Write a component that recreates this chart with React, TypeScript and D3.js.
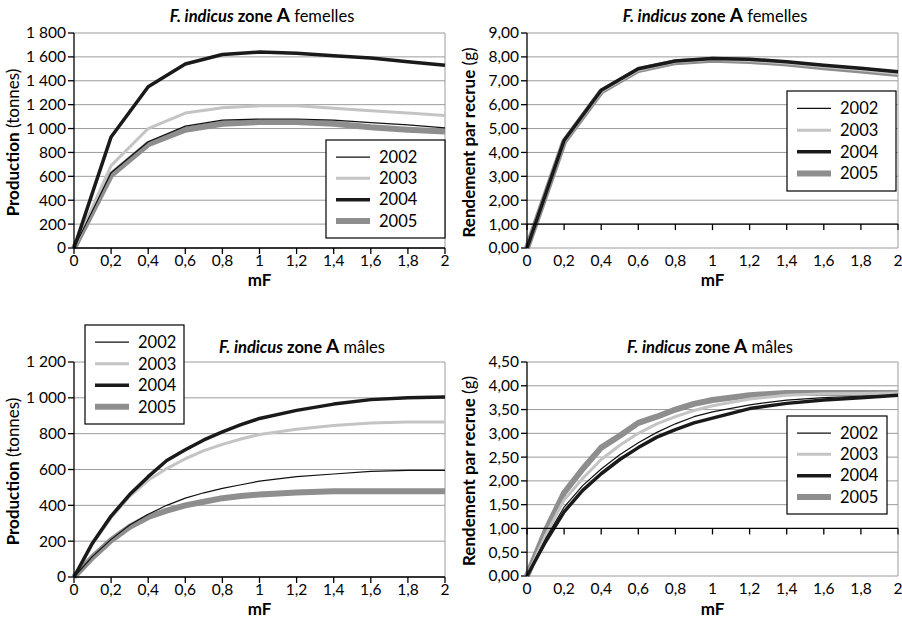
import * as d3 from "d3";
import React from "react";

// mF values (x axis)
const mF11 = [0, 0.2, 0.4, 0.6, 0.8, 1, 1.2, 1.4, 1.6, 1.8, 2];
const mF16 = [0, 0.1, 0.2, 0.3, 0.4, 0.5, 0.6, 0.7, 0.8, 0.9, 1, 1.2, 1.4, 1.6, 1.8, 2];
const xTickValues = [0, 0.2, 0.4, 0.6, 0.8, 1, 1.2, 1.4, 1.6, 1.8, 2];
const years = ["2002", "2003", "2004", "2005"];

// femelles - production (tonnes)
const prodF2002 = [0, 630, 890, 1020, 1070, 1080, 1080, 1070, 1050, 1030, 1005];
const prodF2003 = [0, 690, 1000, 1130, 1175, 1190, 1190, 1170, 1150, 1130, 1110];
const prodF2004 = [0, 930, 1350, 1540, 1620, 1640, 1630, 1610, 1590, 1560, 1530];
const prodF2005 = [0, 610, 870, 990, 1040, 1055, 1055, 1040, 1010, 990, 975];

// femelles - rendement par recrue (g)
const rprF2002 = [0, 4.5, 6.6, 7.5, 7.82, 7.92, 7.88, 7.78, 7.63, 7.5, 7.35];
const rprF2003 = [0, 4.45, 6.55, 7.45, 7.8, 7.9, 7.85, 7.74, 7.6, 7.46, 7.3];
const rprF2004 = [0, 4.5, 6.6, 7.5, 7.83, 7.93, 7.9, 7.8, 7.65, 7.52, 7.38];
const rprF2005 = [0, 4.45, 6.55, 7.45, 7.78, 7.88, 7.83, 7.72, 7.57, 7.43, 7.28];

// mâles - production (tonnes)
const prodM2002 = [0, 115, 210, 290, 350, 400, 440, 470, 495, 515, 535, 560, 575, 590, 595, 595];
const prodM2003 = [0, 185, 330, 450, 540, 605, 660, 705, 740, 770, 795, 825, 845, 860, 865, 865];
const prodM2004 = [0, 190, 340, 460, 560, 650, 710, 765, 810, 850, 885, 930, 965, 990, 1000, 1005];
const prodM2005 = [0, 110, 205, 280, 335, 370, 400, 420, 440, 452, 460, 472, 478, 478, 478, 478];

// mâles - rendement par recrue (g)
const rprM2002 = [0, 0.78, 1.45, 1.9, 2.25, 2.55, 2.8, 3.02, 3.2, 3.35, 3.45, 3.6, 3.7, 3.75, 3.78, 3.8];
const rprM2003 = [0, 0.85, 1.6, 2.05, 2.45, 2.75, 3.0, 3.2, 3.35, 3.48, 3.58, 3.72, 3.8, 3.83, 3.84, 3.85];
const rprM2004 = [0, 0.72, 1.35, 1.8, 2.15, 2.45, 2.7, 2.92, 3.08, 3.22, 3.32, 3.52, 3.63, 3.7, 3.75, 3.8];
const rprM2005 = [0, 0.95, 1.75, 2.25, 2.7, 2.95, 3.22, 3.35, 3.5, 3.62, 3.7, 3.8, 3.85, 3.85, 3.85, 3.85];

const FONT = "Lato, 'Open Sans', sans-serif";

const styles: Record<string, { color: string; width: number }> = {
  "2002": { color: "#111", width: 1.2 },
  "2003": { color: "#c4c4c4", width: 3 },
  "2004": { color: "#1a1a1a", width: 3.5 },
  "2005": { color: "#8e8e8e", width: 6 },
};
const drawOrder = ["2005", "2003", "2002", "2004"];

const fr = d3.formatLocale({ decimal: ",", thousands: " ", grouping: [3], currency: ["", " €"] });
const fmtThousands = fr.format(",d");
const fmt2 = fr.format(".2f");
const fmtX = (v: number) => String(v).replace(".", ",");

type Panel = {
  left: number; right: number; top: number; bottom: number;
  yMax: number; yStep: number; fmt: (v: number) => string; cross: number;
  xs: number[]; series: Record<string, number[]>;
  title: string; titleX: number; titleY: number;
  ylabelBold: string; ylabelRest: string; ylabelX: number;
  xlabelY: number;
  legend: { x: number; y: number; w: number; h: number };
};

const panels: Panel[] = [
  {
    left: 74, right: 445, top: 33, bottom: 248, yMax: 1800, yStep: 200, fmt: fmtThousands, cross: 0,
    xs: mF11, series: { "2002": prodF2002, "2003": prodF2003, "2004": prodF2004, "2005": prodF2005 },
    title: "femelles", titleX: 262, titleY: 22,
    ylabelBold: "Production", ylabelRest: " (tonnes)", ylabelX: 19, xlabelY: 286,
    legend: { x: 326, y: 140, w: 119, h: 98 },
  },
  {
    left: 527, right: 898, top: 33, bottom: 248, yMax: 9, yStep: 1, fmt: fmt2, cross: 1,
    xs: mF11, series: { "2002": rprF2002, "2003": rprF2003, "2004": rprF2004, "2005": rprF2005 },
    title: "femelles", titleX: 715, titleY: 22,
    ylabelBold: "Rendement par recrue", ylabelRest: " (g)", ylabelX: 475, xlabelY: 286,
    legend: { x: 787, y: 91, w: 109, h: 100 },
  },
  {
    left: 74, right: 445, top: 362, bottom: 577, yMax: 1200, yStep: 200, fmt: fmtThousands, cross: 0,
    xs: mF16, series: { "2002": prodM2002, "2003": prodM2003, "2004": prodM2004, "2005": prodM2005 },
    title: "mâles", titleX: 302, titleY: 353,
    ylabelBold: "Production", ylabelRest: " (tonnes)", ylabelX: 19, xlabelY: 615,
    legend: { x: 85, y: 325, w: 99, h: 99 },
  },
  {
    left: 527, right: 898, top: 362, bottom: 576, yMax: 4.5, yStep: 0.5, fmt: fmt2, cross: 1,
    xs: mF16, series: { "2002": rprM2002, "2003": rprM2003, "2004": rprM2004, "2005": rprM2005 },
    title: "mâles", titleX: 710, titleY: 353,
    ylabelBold: "Rendement par recrue", ylabelRest: " (g)", ylabelX: 475, xlabelY: 615,
    legend: { x: 787, y: 416, w: 100, h: 98 },
  },
];

function Chart({ p }: { p: Panel }) {
  const x = d3.scaleLinear().domain([0, 2]).range([p.left, p.right]);
  const y = d3.scaleLinear().domain([0, p.yMax]).range([p.bottom, p.top]);
  const yTicks = d3.range(0, p.yMax + p.yStep / 2, p.yStep);
  const line = d3.line<number>().x((_, i) => x(p.xs[i])).y((d) => y(d));
  const axisY = y(p.cross);
  const midY = (p.top + p.bottom) / 2 + 2;
  const rowH = p.legend.h / 4.6;
  return (
    <g>
      <text x={p.titleX} y={p.titleY} textAnchor="middle" fontSize={16.5} fontFamily={FONT}>
        <tspan fontWeight="bold" fontStyle="italic">F. indicus</tspan>
        <tspan fontWeight="bold"> zone </tspan>
        <tspan fontWeight="bold" fontSize={19}>A</tspan>
        <tspan> {p.title}</tspan>
      </text>
      {yTicks.map((t) => (
        <line key={"g" + t} x1={p.left} x2={p.right} y1={y(t)} y2={y(t)} stroke="#9c9c9c" strokeWidth={1} />
      ))}
      <line x1={p.right} x2={p.right} y1={p.top} y2={p.bottom} stroke="#9c9c9c" />
      {drawOrder.map((k) => (
        <path key={k} d={line(p.series[k]) || ""} fill="none" stroke={styles[k].color}
          strokeWidth={styles[k].width} strokeLinejoin="round" />
      ))}
      <line x1={p.left} x2={p.left} y1={p.top} y2={p.bottom} stroke="#000" strokeWidth={1.3} />
      <line x1={p.left} x2={p.right} y1={axisY} y2={axisY} stroke="#000" strokeWidth={1.3} />
      {yTicks.map((t) => (
        <g key={"t" + t}>
          <line x1={p.left - 6} x2={p.left} y1={y(t)} y2={y(t)} stroke="#000" strokeWidth={1.3} />
          <text x={p.left - 8} y={y(t)} dy="0.35em" textAnchor="end" fontSize={15.5} fontFamily={FONT}>{p.fmt(t)}</text>
        </g>
      ))}
      {xTickValues.map((t) => (
        <g key={"x" + t}>
          <line x1={x(t)} x2={x(t)} y1={axisY} y2={axisY + 6} stroke="#000" strokeWidth={1.3} />
          <text x={x(t)} y={p.bottom + 18} textAnchor="middle" fontSize={15.5} fontFamily={FONT}>{fmtX(t)}</text>
        </g>
      ))}
      <text x={(p.left + p.right) / 2} y={p.xlabelY} textAnchor="middle" fontSize={17} fontWeight="bold" fontFamily={FONT}>mF</text>
      <text transform={`translate(${p.ylabelX},${midY}) rotate(-90)`} textAnchor="middle" fontSize={17} fontFamily={FONT}>
        <tspan fontWeight="bold">{p.ylabelBold}</tspan>
        <tspan>{p.ylabelRest}</tspan>
      </text>
      <rect x={p.legend.x} y={p.legend.y} width={p.legend.w} height={p.legend.h} fill="#fff" stroke="#000" strokeWidth={1.2} />
      {years.map((k, i) => {
        const ry = p.legend.y + rowH * (i + 0.8);
        return (
          <g key={"l" + k}>
            <line x1={p.legend.x + 10} x2={p.legend.x + 44} y1={ry} y2={ry} stroke={styles[k].color} strokeWidth={styles[k].width} />
            <text x={p.legend.x + 53} y={ry} dy="0.35em" fontSize={16.5} fontFamily={FONT}>{k}</text>
          </g>
        );
      })}
    </g>
  );
}

export default function App() {
  return (
    <svg width={902} height={621} style={{ position: "absolute", left: 0, top: 0, background: "#fff" }}>
      <rect width={902} height={621} fill="#fff" />
      {panels.map((p, i) => (
        <Chart key={i} p={p} />
      ))}
    </svg>
  );
}
